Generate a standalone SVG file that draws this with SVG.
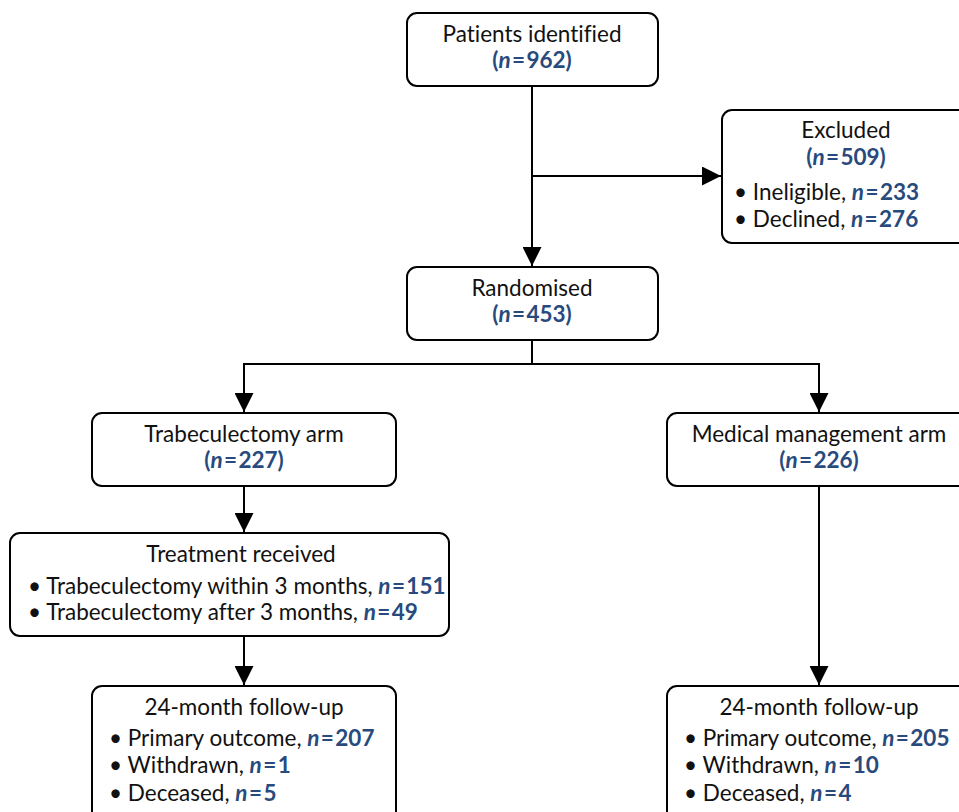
<svg xmlns="http://www.w3.org/2000/svg" width="959" height="812" viewBox="0 0 959 812">
<style>
.box{fill:#fff;stroke:#000;stroke-width:2}
.t{font-family:Lato,"Liberation Sans",sans-serif;font-size:22.5px;fill:#111;font-variant-ligatures:none}
.c{text-anchor:middle}
.n{fill:#284a7d;font-weight:bold}
.i{font-style:italic}
.ln{fill:none;stroke:#000;stroke-width:2}
</style>
<defs>
<marker id="ah" viewBox="0 0 10 10" refX="10" refY="5" markerWidth="19" markerHeight="19" markerUnits="userSpaceOnUse" orient="auto">
<path d="M0,0 L10,5 L0,10 z" fill="#000"/>
</marker>
</defs>
<rect width="959" height="812" fill="#fff"/>
<g id="connectors">
<path class="ln" d="M532,86 V266" marker-end="url(#ah)"/>
<path class="ln" d="M532,176 H721" marker-end="url(#ah)"/>
<path class="ln" d="M532,340 V364"/>
<path class="ln" d="M244,364 H819"/>
<path class="ln" d="M244,363 V412" marker-end="url(#ah)"/>
<path class="ln" d="M819,363 V412" marker-end="url(#ah)"/>
<path class="ln" d="M244,486 V532" marker-end="url(#ah)"/>
<path class="ln" d="M244,636 V685" marker-end="url(#ah)"/>
<path class="ln" d="M819,486 V685" marker-end="url(#ah)"/>
</g>
<g id="identified">
<rect class="box" x="407" y="13" width="251" height="73" rx="10"/>
<text class="t c" x="532" y="42">Patients identified</text>
<text class="t c n" x="532" y="68">(<tspan class="i">n</tspan>&#8202;=&#8202;962)</text>
</g>
<g id="excluded">
<rect class="box" x="722" y="110" width="260" height="133" rx="10"/>
<text class="t c" x="846" y="138">Excluded</text>
<text class="t c n" x="846" y="165">(<tspan class="i">n</tspan>&#8202;=&#8202;509)</text>
<text class="t" x="734" y="200">• Ineligible, <tspan class="n"><tspan class="i">n</tspan>&#8202;=&#8202;233</tspan></text>
<text class="t" x="734" y="227">• Declined, <tspan class="n"><tspan class="i">n</tspan>&#8202;=&#8202;276</tspan></text>
</g>
<g id="randomised">
<rect class="box" x="407" y="267" width="251" height="73" rx="10"/>
<text class="t c" x="532" y="296">Randomised</text>
<text class="t c n" x="532" y="322">(<tspan class="i">n</tspan>&#8202;=&#8202;453)</text>
</g>
<g id="trab-arm">
<rect class="box" x="92" y="413" width="304" height="73" rx="10"/>
<text class="t c" x="244" y="442">Trabeculectomy arm</text>
<text class="t c n" x="244" y="468">(<tspan class="i">n</tspan>&#8202;=&#8202;227)</text>
</g>
<g id="med-arm">
<rect class="box" x="667" y="413" width="310" height="73" rx="10"/>
<text class="t c" x="819" y="442">Medical management arm</text>
<text class="t c n" x="819" y="468">(<tspan class="i">n</tspan>&#8202;=&#8202;226)</text>
</g>
<g id="treatment">
<rect class="box" x="10" y="533" width="439" height="103" rx="10"/>
<text class="t c" x="241" y="562">Treatment received</text>
<text class="t" x="28" y="594">• Trabeculectomy within 3 months, <tspan class="n"><tspan class="i">n</tspan>&#8202;=&#8202;151</tspan></text>
<text class="t" x="28" y="620">• Trabeculectomy after 3 months, <tspan class="n"><tspan class="i">n</tspan>&#8202;=&#8202;49</tspan></text>
</g>
<g id="followup-trab">
<rect class="box" x="92" y="686" width="304" height="140" rx="10"/>
<text class="t c" x="244" y="715">24-month follow-up</text>
<text class="t" x="109" y="746">• Primary outcome, <tspan class="n"><tspan class="i">n</tspan>&#8202;=&#8202;207</tspan></text>
<text class="t" x="109" y="773">• Withdrawn, <tspan class="n"><tspan class="i">n</tspan>&#8202;=&#8202;1</tspan></text>
<text class="t" x="109" y="801">• Deceased, <tspan class="n"><tspan class="i">n</tspan>&#8202;=&#8202;5</tspan></text>
</g>
<g id="followup-med">
<rect class="box" x="667" y="686" width="310" height="140" rx="10"/>
<text class="t c" x="819" y="715">24-month follow-up</text>
<text class="t" x="684" y="746">• Primary outcome, <tspan class="n"><tspan class="i">n</tspan>&#8202;=&#8202;205</tspan></text>
<text class="t" x="684" y="773">• Withdrawn, <tspan class="n"><tspan class="i">n</tspan>&#8202;=&#8202;10</tspan></text>
<text class="t" x="684" y="801">• Deceased, <tspan class="n"><tspan class="i">n</tspan>&#8202;=&#8202;4</tspan></text>
</g>
</svg>
